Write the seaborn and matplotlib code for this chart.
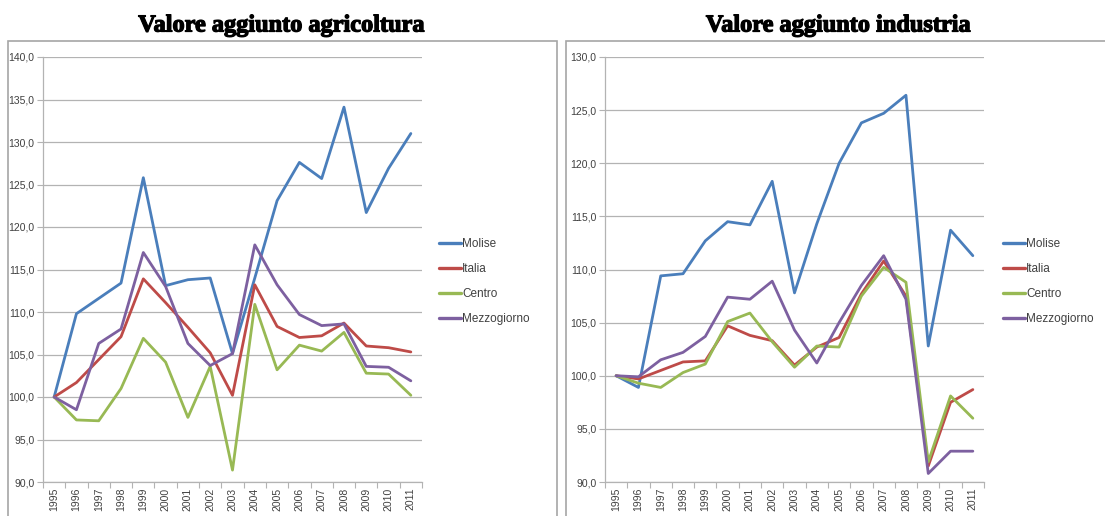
import matplotlib
matplotlib.use("Agg")
import matplotlib.pyplot as plt
from matplotlib.patches import Rectangle
from matplotlib.ticker import FuncFormatter, FixedLocator
import matplotlib.patheffects as pe
import seaborn as sns
import pandas as pd

years = [str(y) for y in range(1995, 2012)]
series_names = ["Molise", "Italia", "Centro", "Mezzogiorno"]

agri_molise = [100.0, 109.8, 111.6, 113.4, 125.8, 113.1, 113.8, 114.0, 105.1, 114.0, 123.1, 127.6, 125.7, 134.1, 121.7, 126.9, 131.0]
agri_italia = [100.0, 101.7, 104.4, 107.1, 113.9, 111.1, 108.2, 105.2, 100.2, 113.2, 108.3, 107.0, 107.2, 108.7, 106.0, 105.8, 105.3]
agri_centro = [100.0, 97.3, 97.2, 101.0, 106.9, 104.1, 97.6, 103.6, 91.4, 110.9, 103.2, 106.1, 105.4, 107.6, 102.8, 102.7, 100.2]
agri_mezzo = [100.0, 98.5, 106.3, 108.0, 117.0, 113.0, 106.3, 103.7, 105.1, 117.9, 113.2, 109.7, 108.4, 108.6, 103.6, 103.5, 101.9]

ind_molise = [100.0, 98.9, 109.4, 109.6, 112.7, 114.5, 114.2, 118.3, 107.8, 114.3, 120.0, 123.8, 124.7, 126.4, 102.8, 113.7, 111.3]
ind_italia = [100.0, 99.7, 100.5, 101.3, 101.4, 104.7, 103.8, 103.3, 101.0, 102.7, 103.6, 107.7, 110.8, 107.5, 91.5, 97.5, 98.7]
ind_centro = [100.0, 99.3, 98.9, 100.3, 101.1, 105.1, 105.9, 103.2, 100.8, 102.8, 102.7, 107.5, 110.2, 108.8, 91.9, 98.1, 96.0]
ind_mezzo = [100.0, 99.9, 101.5, 102.2, 103.7, 107.4, 107.2, 108.9, 104.3, 101.2, 105.0, 108.5, 111.3, 107.2, 90.8, 92.9, 92.9]

titles = ["Valore aggiunto agricoltura", "Valore aggiunto industria"]
y_ranges = [(90, 140), (90, 130)]

palette = {"Molise": "#4A7EBB", "Italia": "#BE4B48", "Centro": "#98B954", "Mezzogiorno": "#7D60A0"}


def long_frame(values):
    rows = []
    for name, vals in zip(series_names, values):
        for i, (yr, v) in enumerate(zip(years, vals)):
            rows.append({"idx": i, "year": yr, "serie": name, "value": v})
    return pd.DataFrame(rows)


data_sets = [
    long_frame([agri_molise, agri_italia, agri_centro, agri_mezzo]),
    long_frame([ind_molise, ind_italia, ind_centro, ind_mezzo]),
]

sns.set_theme(style="white")
plt.rcParams["font.family"] = ["Liberation Sans", "DejaVu Sans"]

W, H = 1105, 516
fig = plt.figure(figsize=(W / 100, H / 100), dpi=100)

def fx(px):
    return px / W

def fy(py):
    return 1 - py / H

# panel frames
for (x0, x1) in [(8, 557), (566, 1110)]:
    fig.patches.append(Rectangle((fx(x0), -0.01), fx(x1 - x0), fy(41) + 0.01,
                                 transform=fig.transFigure, fill=False,
                                 edgecolor="#A6A6A6", linewidth=1.2))

axes_px = [(43, 422), (605, 984)]
title_x = [281, 838]
legend_x = [434, 998]
grid_col = "#B3B3B3"

for k in range(2):
    x0, x1 = axes_px[k]
    ax = fig.add_axes([fx(x0), fy(482), fx(x1 - x0), fy(57) - fy(482)])
    df = data_sets[k]
    sns.lineplot(data=df, x="idx", y="value", hue="serie", hue_order=series_names,
                 palette=palette, linewidth=2.0, ax=ax, legend=True, sort=False)
    lo, hi = y_ranges[k]
    ax.set_ylim(lo, hi)
    ax.set_xlim(-0.5, len(years) - 0.5)
    ax.set_yticks(list(range(lo, hi + 1, 5)))
    ax.yaxis.set_major_formatter(FuncFormatter(lambda v, p: f"{v:.1f}".replace(".", ",")))
    ax.xaxis.set_major_locator(FixedLocator(list(range(len(years)))))
    ax.set_xticklabels(years, rotation=90)
    ax.xaxis.set_minor_locator(FixedLocator([i - 0.5 for i in range(len(years) + 1)]))
    ax.tick_params(axis="x", which="major", length=0, pad=4, labelsize=7.5, colors="#404040")
    ax.tick_params(axis="x", which="minor", length=4, width=0.8, color=grid_col, bottom=True)
    ax.tick_params(axis="y", which="major", length=4, width=0.8, color=grid_col, left=True,
                   labelsize=7.5, labelcolor="#404040", pad=2)
    ax.grid(axis="y", color=grid_col, linewidth=0.9)
    ax.set_axisbelow(True)
    for s in ["top", "right"]:
        ax.spines[s].set_visible(False)
    for s in ["left", "bottom"]:
        ax.spines[s].set_color(grid_col)
        ax.spines[s].set_linewidth(0.9)
    ax.set_xlabel("")
    ax.set_ylabel("")
    handles, labels = ax.get_legend_handles_labels()
    for h in handles:
        h.set_linewidth(2.4)
    ax.legend(handles, labels, loc="upper left",
              bbox_to_anchor=(fx(legend_x[k]), fy(233)), bbox_transform=fig.transFigure,
              frameon=False, fontsize=8.5, handlelength=1.9, handletextpad=0.1,
              labelspacing=1.12, borderaxespad=0, labelcolor="#404040")
    fig.text(fx(title_x[k]), fy(26), titles[k], ha="center", va="center",
             fontsize=17.5, fontweight="bold", family=["Liberation Serif", "DejaVu Serif"],
             color="black",
             path_effects=[pe.withStroke(linewidth=0.9, foreground="black")])

fig.savefig("out.png", dpi=100)
